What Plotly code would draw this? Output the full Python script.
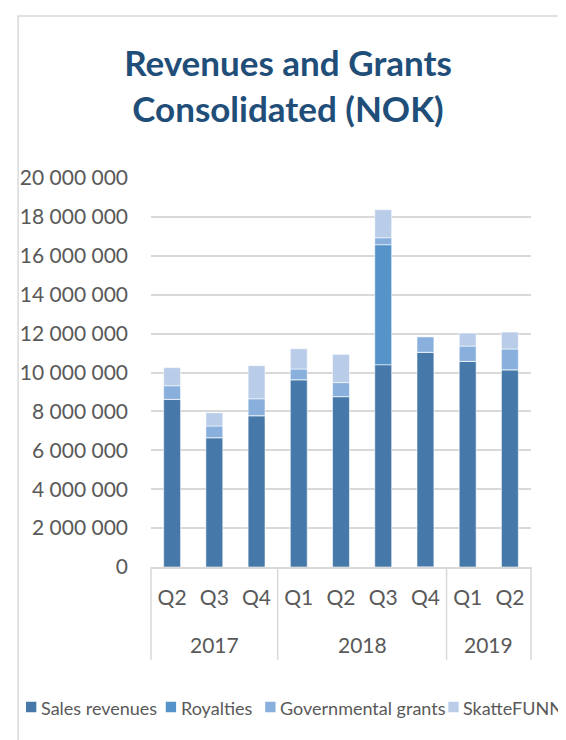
import plotly.graph_objects as go

# ---- data ----
years = ["2017", "2017", "2017", "2018", "2018", "2018", "2018", "2019", "2019"]
quarters = ["Q2", "Q3", "Q4", "Q1", "Q2", "Q3", "Q4", "Q1", "Q2"]
sales_revenues = [8620000, 6650000, 7780000, 9630000, 8760000, 10400000, 11040000, 10570000, 10140000]
royalties = [0, 0, 0, 0, 0, 6170000, 0, 0, 0]
governmental_grants = [700000, 600000, 870000, 550000, 720000, 360000, 790000, 790000, 1070000]
skattefunn = [930000, 680000, 1700000, 1040000, 1450000, 1440000, -120000, 670000, 870000]

series_names = ["Sales revenues", "Royalties", "Governmental grants", "SkatteFUNN"]
series_values = [sales_revenues, royalties, governmental_grants, skattefunn]
series_colors = ["#4679A9", "#5693C9", "#89B0DD", "#B9CDE9"]

y_tickvals = [0, 2000000, 4000000, 6000000, 8000000, 10000000, 12000000,
              14000000, 16000000, 18000000, 20000000]

title_lines = ["Revenues and Grants", "Consolidated (NOK)"]

# ---- layout geometry (screen pixels; page body has an 8px margin) ----
W, H = 566, 740
OFF = 8
PL, PR, PT, PB = 145, 531, 178, 567
FONT = "Lato"
GRID = "#D9D9D9"
TXT = "#595959"

n = len(quarters)
xpos = list(range(n))
XMIN, XMAX = -0.5, n - 0.5


def px_x(p):
    return (p - PL) / (PR - PL)


def px_y(p):
    return (PB - p) / (PB - PT)


def data_to_paper_x(v):
    return (v - XMIN) / (XMAX - XMIN)


fig = go.Figure()
for name, vals, col in zip(series_names, series_values, series_colors):
    fig.add_trace(go.Bar(
        x=xpos, y=vals, name=name,
        customdata=[[y, q] for y, q in zip(years, quarters)],
        hovertemplate="%{customdata[1]} %{customdata[0]}<br>%{y:,d}<extra>" + name + "</extra>",
        marker=dict(color=col, line=dict(color="rgba(255,255,255,0.55)", width=1)),
        showlegend=False, cliponaxis=False,
    ))

shapes = []
annotations = []

# year groups: labels + dividers
groups = []
for i, y in enumerate(years):
    if groups and groups[-1][0] == y:
        groups[-1][2] = i
    else:
        groups.append([y, i, i])
bounds = [groups[0][1] - 0.5] + [g[2] + 0.5 for g in groups]
for b in bounds:
    shapes.append(dict(type="line", xref="paper", yref="paper",
                       x0=data_to_paper_x(b), x1=data_to_paper_x(b),
                       y0=0, y1=px_y(660), line=dict(color=GRID, width=1.5)))
for y, i0, i1 in groups:
    annotations.append(dict(text=y, xref="x", yref="paper", x=(i0 + i1) / 2,
                            y=px_y(644), xanchor="center", yanchor="middle",
                            showarrow=False, font=dict(family=FONT, size=21, color=TXT)))

# chart frame (cropped Excel chart area border)
shapes.append(dict(type="rect", xref="paper", yref="paper",
                   x0=px_x(10), x1=px_x(620), y0=px_y(800), y1=px_y(16),
                   line=dict(color=GRID, width=1.5), fillcolor="rgba(0,0,0,0)",
                   layer="below"))

# custom legend
leg_sq_x = [18, 160, 261, 447]
leg_cy = 707
for name, col, sx in zip(series_names, series_colors, leg_sq_x):
    shapes.append(dict(type="rect", xref="paper", yref="paper",
                       x0=px_x(sx), x1=px_x(sx + 10.5),
                       y0=px_y(leg_cy + 5.25), y1=px_y(leg_cy - 5.25),
                       line=dict(width=0), fillcolor=col))
    annotations.append(dict(text=name, xref="paper", yref="paper",
                            x=px_x(sx + 13), y=px_y(leg_cy + 1), xanchor="left",
                            yanchor="middle", showarrow=False,
                            font=dict(family=FONT, size=18, color=TXT)))

fig.update_layout(
    width=W, height=H,
    margin=dict(l=PL - OFF, r=W - (PR - OFF), t=PT - OFF, b=H - (PB - OFF), pad=0),
    paper_bgcolor="white", plot_bgcolor="white",
    barmode="relative", bargap=0.6,
    separators=", ",
    font=dict(family=FONT, size=21, color=TXT),
    title=dict(text="<br>".join(title_lines), x=(288 - OFF) / W, xanchor="center",
               y=1 - (76 - OFF) / H, yanchor="middle", yref="container",
               font=dict(family=FONT, size=35, color="#1F4E79", weight="bold")),
    xaxis=dict(range=[XMIN, XMAX], tickvals=xpos, ticktext=quarters,
               showline=True, linecolor=GRID, linewidth=1.5,
               showgrid=False, zeroline=False, ticks="outside", ticklen=11,
               tickcolor="rgba(0,0,0,0)",
               tickfont=dict(family=FONT, size=21, color=TXT)),
    yaxis=dict(range=[0, 20000000], tickvals=y_tickvals, tickformat=",d",
               showgrid=True, gridcolor=GRID, gridwidth=1.5, zeroline=False,
               showline=False, ticks="", ticklabelstandoff=22,
               tickfont=dict(family=FONT, size=21, color=TXT)),
    shapes=shapes, annotations=annotations,
)

fig.write_html("out.html")
